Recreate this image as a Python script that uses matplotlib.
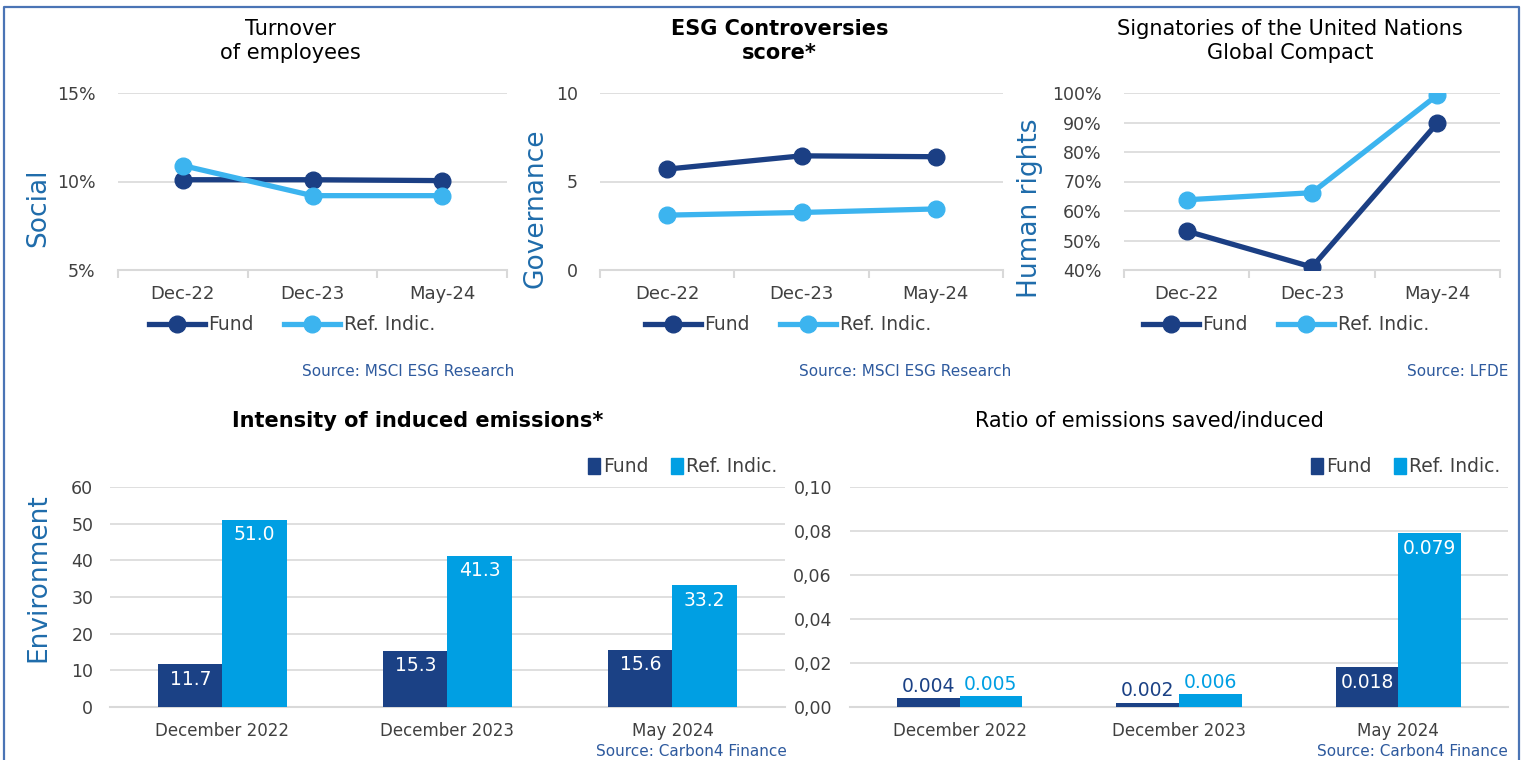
import matplotlib
matplotlib.use("Agg")
import matplotlib.pyplot as plt
from matplotlib.lines import Line2D
from matplotlib.patches import Rectangle

plt.rcParams['font.family'] = ['DejaVu Sans']

# ---- data ----
line_cats = ["Dec-22", "Dec-23", "May-24"]
turnover_fund = [10.1, 10.1, 10.05]
turnover_ref = [10.9, 9.2, 9.2]
controv_fund = [5.7, 6.45, 6.4]
controv_ref = [3.1, 3.25, 3.45]
ungc_fund = [53.2, 41.0, 89.8]
ungc_ref = [63.8, 66.2, 99.3]

bar_cats = ["December 2022", "December 2023", "May 2024"]
intensity_fund = [11.7, 15.3, 15.6]
intensity_ref = [51.0, 41.3, 33.2]
ratio_fund = [0.004, 0.002, 0.018]
ratio_ref = [0.005, 0.006, 0.079]

W, H = 1527, 760
FUND_LINE = "#1b3f84"
REF_LINE = "#3cb4ef"
FUND_BAR = "#1b4185"
REF_BAR = "#009fe3"
LABEL_BLUE = "#1f6cab"
SRC_BLUE = "#2e5a9e"
TXT = "#404040"
GRID = "#d9d9d9"

fig = plt.figure(figsize=(W / 100, H / 100), dpi=100)


def ax_at(x0, y0, x1, y1):
    return fig.add_axes([x0 / W, 1 - y1 / H, (x1 - x0) / W, (y1 - y0) / H])


def fx(x):
    return x / W


def fy(y):
    return 1 - y / H


def style_axes(ax, boundary_ticks, xsize):
    for s in ["top", "right", "left"]:
        ax.spines[s].set_visible(False)
    ax.spines["bottom"].set_color(GRID)
    ax.spines["bottom"].set_linewidth(1.5)
    ax.grid(axis="y", color=GRID, linewidth=1.2)
    ax.set_axisbelow(True)
    ax.tick_params(axis="y", length=0, labelsize=12.5, colors=TXT, pad=16)
    ax.tick_params(axis="x", which="major", length=0, labelsize=xsize, colors=TXT, pad=11)
    if boundary_ticks:
        ax.set_xticks([-0.5, 0.5, 1.5, 2.5], minor=True)
        ax.tick_params(axis="x", which="minor", length=6, color=GRID, width=1.5)


def line_panel(box, fund, ref, ylim, yticks, yticklabels, title, bold, ylabel, ylabel_x, legend_x, src, src_x):
    ax = ax_at(*box)
    x = range(len(line_cats))
    ax.plot(x, fund, color=FUND_LINE, lw=3.8, marker="o", ms=12, label="Fund", zorder=3)
    ax.plot(x, ref, color=REF_LINE, lw=3.8, marker="o", ms=12, label="Ref. Indic.", zorder=3)
    ax.set_xlim(-0.5, 2.5)
    ax.set_ylim(*ylim)
    ax.set_yticks(yticks)
    ax.set_yticklabels(yticklabels)
    ax.set_xticks(list(x))
    ax.set_xticklabels(line_cats)
    style_axes(ax, True, 13)
    fig.text(fx((box[0] + box[2]) / 2 - 22), fy(41), title, ha="center", va="center",
             fontsize=15, fontweight="bold" if bold else "normal", color="black", linespacing=1.3)
    fig.text(fx(ylabel_x), fy(208), ylabel, rotation=90, ha="center", va="center",
             fontsize=19, color=LABEL_BLUE)
    ax.legend(loc="center", bbox_to_anchor=(fx(legend_x), fy(325)), bbox_transform=fig.transFigure,
              ncol=2, frameon=False, fontsize=13.5, handlelength=3.0, handletextpad=0.2,
              columnspacing=1.6, labelcolor=TXT)
    fig.text(fx(src_x), fy(371), src, ha="right", va="center", fontsize=11, color=SRC_BLUE)
    return ax


def bar_panel(box, fund, ref, ylim, yticks, yticklabels, title, bold, fmt, legend_x, src, src_x, ypad):
    ax = ax_at(*box)
    x = list(range(len(bar_cats)))
    w = 0.285
    b1 = ax.bar([i - w / 2 for i in x], fund, width=w, color=FUND_BAR, zorder=3)
    b2 = ax.bar([i + w / 2 for i in x], ref, width=w, color=REF_BAR, zorder=3)
    ax.set_xlim(-0.5, 2.5)
    ax.set_ylim(*ylim)
    ax.set_yticks(yticks)
    ax.set_yticklabels(yticklabels)
    ax.set_xticks(x)
    ax.set_xticklabels(bar_cats)
    style_axes(ax, False, 12)
    ax.tick_params(axis="y", pad=ypad)
    span = ylim[1] - ylim[0]
    for bars, vals, col in [(b1, fund, FUND_BAR), (b2, ref, REF_BAR)]:
        for r, v in zip(bars, vals):
            cx = r.get_x() + r.get_width() / 2
            if v / span > 0.12:
                ax.text(cx, v - span * 0.025, fmt(v), ha="center", va="top", color="white", fontsize=13.5)
            else:
                ax.text(cx, v + span * 0.01, fmt(v), ha="center", va="bottom", color=col, fontsize=13.5)
    fig.text(fx((box[0] + box[2]) / 2 - 30), fy(421), title, ha="center", va="center",
             fontsize=15, fontweight="bold" if bold else "normal", color="black")
    handles = [Rectangle((0, 0), 1, 1, color=FUND_BAR), Rectangle((0, 0), 1, 1, color=REF_BAR)]
    ax.legend(handles, ["Fund", "Ref. Indic."], loc="center", bbox_to_anchor=(fx(legend_x), fy(467)),
              bbox_transform=fig.transFigure, ncol=2, frameon=False, fontsize=13.5,
              handlelength=0.6, handleheight=0.9, handletextpad=0.2, columnspacing=1.2, labelcolor=TXT)
    fig.text(fx(src_x), fy(752), src, ha="right", va="center", fontsize=11, color=SRC_BLUE)
    return ax


line_panel((118, 93, 507, 270), turnover_fund, turnover_ref, (5, 15), [5, 10, 15], ["5%", "10%", "15%"],
           "Turnover\nof employees", False, "Social", 38, 292, "Source: MSCI ESG Research", 514)
line_panel((600, 93, 1003, 270), controv_fund, controv_ref, (0, 10), [0, 5, 10], ["0", "5", "10"],
           "ESG Controversies\nscore*", True, "Governance", 535, 788, "Source: MSCI ESG Research", 1011)
ungc_ticks = [40, 50, 60, 70, 80, 90, 100]
line_panel((1124, 93, 1500, 270), ungc_fund, ungc_ref, (40, 100), ungc_ticks, [f"{t}%" for t in ungc_ticks],
           "Signatories of the United Nations\nGlobal Compact", False, "Human rights", 1030, 1286,
           "Source: LFDE", 1508)

int_ticks = [0, 10, 20, 30, 40, 50, 60]
bar_panel((110, 487, 785, 707), intensity_fund, intensity_ref, (0, 60), int_ticks, [str(t) for t in int_ticks],
          "Intensity of induced emissions*", True, lambda v: f"{v:.1f}", 683, "Source: Carbon4 Finance", 787, 12)
fig.text(fx(38), fy(578), "Environment", rotation=90, ha="center", va="center", fontsize=19, color=LABEL_BLUE)

ratio_ticks = [0, 0.02, 0.04, 0.06, 0.08, 0.10]
bar_panel((850, 487, 1508, 707), ratio_fund, ratio_ref, (0, 0.10), ratio_ticks,
          [f"{t:.2f}".replace(".", ",") for t in ratio_ticks],
          "Ratio of emissions saved/induced", False, lambda v: f"{v:.3f}", 1406, "Source: Carbon4 Finance", 1508, 13)

# outer frame
frame = Line2D([fx(4), fx(4), fx(1519), fx(1519)], [0, fy(7), fy(7), 0], transform=fig.transFigure,
               color="#4a74b5", lw=1.6)
fig.add_artist(frame)

fig.savefig("out.png", dpi=100)
